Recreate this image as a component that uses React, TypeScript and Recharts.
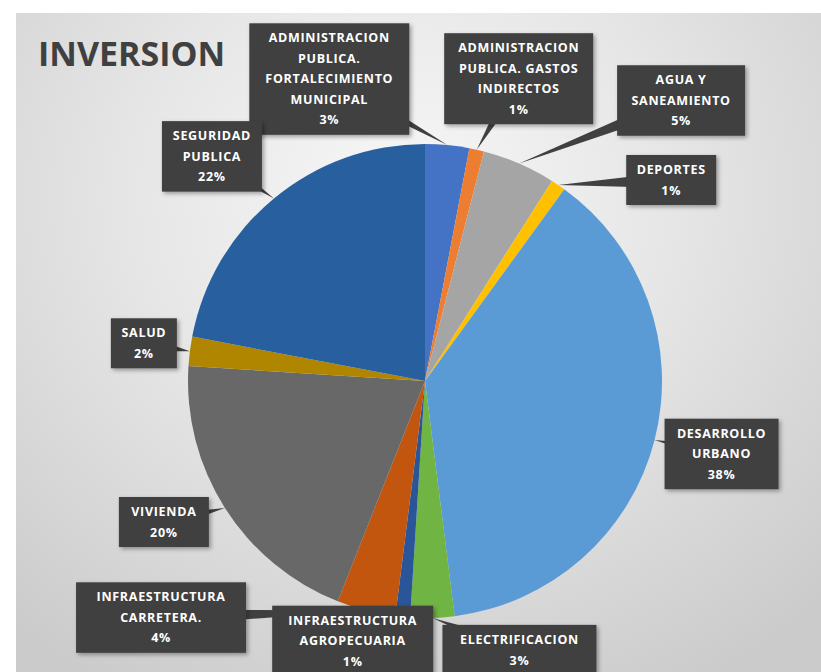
import React from 'react';
import { PieChart, Pie, Cell } from 'recharts';

const categories = [
  'ADMINISTRACION PUBLICA. FORTALECIMIENTO MUNICIPAL',
  'ADMINISTRACION PUBLICA. GASTOS INDIRECTOS',
  'AGUA Y SANEAMIENTO',
  'DEPORTES',
  'DESARROLLO URBANO',
  'ELECTRIFICACION',
  'INFRAESTRUCTURA AGROPECUARIA',
  'INFRAESTRUCTURA CARRETERA.',
  'VIVIENDA',
  'SALUD',
  'SEGURIDAD PUBLICA',
];

const values = [3, 1, 5, 1, 38, 3, 1, 4, 20, 2, 22];

const colors = [
  '#4472C4', '#ED7D31', '#A5A5A5', '#FFC000', '#5B9BD5', '#70B443',
  '#2A5599', '#C2560F', '#686868', '#B08500', '#28609F',
];

const title = 'INVERSION';

// Label box layout: offset of box centre from the slice's outer mid point, and box width
const labelLayout = [
  { dx: -118, dy: -66, w: 160 },
  { dx: 42, dy: -71, w: 149 },
  { dx: 162, dy: -63, w: 128 },
  { dx: 113, dy: -5, w: 90 },
  { dx: 67, dy: 14, w: 114 },
  { dx: 87, dy: 32, w: 154 },
  { dx: -50, dy: 24, w: 161 },
  { dx: -205, dy: 7, w: 170 },
  { dx: -61, dy: 14, w: 90 },
  { dx: -46, dy: -8, w: 66 },
  { dx: -62, dy: -42, w: 100 },
];

const data = categories.map((name, i) => ({ name, value: values[i] }));

const RADIAN = Math.PI / 180;
const LINE_H = 20.5;
const MAX_CHARS = 15;

function wrap(text: string): string[] {
  const words = text.split(' ');
  const lines: string[] = [];
  let cur = '';
  for (const w of words) {
    if (!cur) cur = w;
    else if ((cur + ' ' + w).length <= MAX_CHARS) cur = cur + ' ' + w;
    else {
      lines.push(cur);
      cur = w;
    }
  }
  if (cur) lines.push(cur);
  return lines;
}

const renderLabel = (props: any) => {
  const { cx, cy, midAngle, outerRadius, index, name, value } = props;
  const ax = cx + outerRadius * Math.cos(-midAngle * RADIAN);
  const ay = cy + outerRadius * Math.sin(-midAngle * RADIAN);
  const lay = labelLayout[index];
  const bx = ax + lay.dx;
  const by = ay + lay.dy;
  const lines = [...wrap(name), `${value}%`];
  const h = LINE_H * lines.length + 9;
  const w = lay.w;
  const vx = ax - bx;
  const vy = ay - by;
  const len = Math.sqrt(vx * vx + vy * vy) || 1;
  const nx = (-vy / len) * 8;
  const ny = (vx / len) * 8;
  const pts = `${ax},${ay} ${bx + nx},${by + ny} ${bx - nx},${by - ny}`;
  const startY = by - (LINE_H * (lines.length - 1)) / 2;
  return (
    <g key={`lbl-${index}`}>
      {index === 0 && (
        <defs>
          <filter id="boxShadow" x="-20%" y="-20%" width="140%" height="140%">
            <feDropShadow dx="2" dy="2" stdDeviation="2" floodColor="#000" floodOpacity="0.35" />
          </filter>
        </defs>
      )}
      <polygon points={pts} fill="#404040" />
      <rect x={bx - w / 2} y={by - h / 2} width={w} height={h} fill="#404040" filter="url(#boxShadow)" />
      <text
        textAnchor="middle"
        fill="#ffffff"
        fontFamily="'Open Sans', sans-serif"
        fontWeight={700}
        fontSize={12.5}
        letterSpacing={0.7}
      >
        {lines.map((ln, i) => (
          <tspan key={i} x={bx} y={startY + i * LINE_H} dy="0.35em">
            {ln}
          </tspan>
        ))}
      </text>
    </g>
  );
};

export default function App() {
  return (
    <div style={{ position: 'absolute', left: 0, top: 0, width: 821, height: 672, background: '#ffffff', overflow: 'hidden' }}>
      <div
        style={{
          position: 'absolute',
          left: 16,
          top: 13,
          width: 805,
          height: 659,
          background: 'radial-gradient(ellipse 75% 85% at 48% 28%, #f7f7f7 0%, #e6e6e6 45%, #cbcbcb 100%)',
        }}
      />
      <svg width={821} height={80} style={{ position: 'absolute', left: 0, top: 0 }}>
        <text x={38} y={66} fontFamily="'Open Sans', sans-serif" fontWeight={700} fontSize={34} fill="#404040">
          {title}
        </text>
      </svg>
      <div style={{ position: 'absolute', left: 0, top: 0 }}>
        <PieChart width={821} height={672} margin={{ top: 0, right: 0, bottom: 0, left: 0 }}>
          <Pie
            data={data}
            dataKey="value"
            nameKey="name"
            cx={425}
            cy={381}
            outerRadius={237}
            startAngle={90}
            endAngle={-270}
            stroke="none"
            label={renderLabel}
            labelLine={false}
            isAnimationActive={false}
          >
            {data.map((d, i) => (
              <Cell key={d.name} fill={colors[i]} />
            ))}
          </Pie>
        </PieChart>
      </div>
    </div>
  );
}
